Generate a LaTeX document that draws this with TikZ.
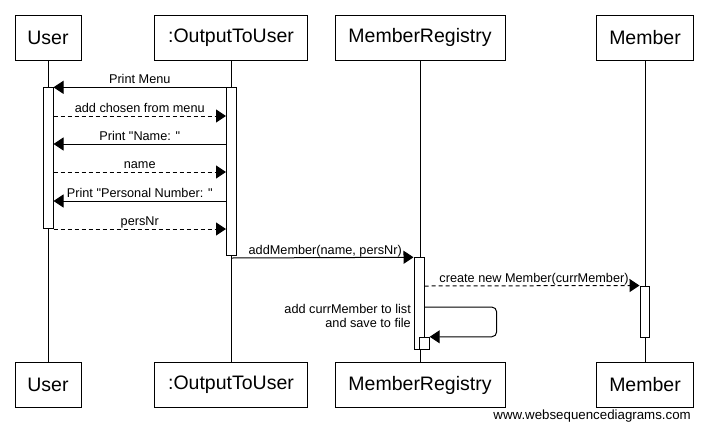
\documentclass[tikz,border=0pt]{standalone}
\usepackage{fontspec}
\setmainfont{Liberation Sans}
\usetikzlibrary{arrows.meta}
\begin{document}
\begin{tikzpicture}[x=1pt,y=-1pt,
  part/.style={draw, line width=1pt, fill=white, minimum height=45pt, inner sep=0pt, font=\fontsize{19.5}{21}\selectfont},
  act/.style={draw, line width=1pt, fill=white, minimum width=10pt, inner sep=0pt},
  msg/.style={line width=1pt, -{Triangle[length=10pt,width=13pt]}},
  ret/.style={msg, dash pattern=on 4pt off 3pt},
  lbl/.style={font=\fontsize{12.7}{14}\selectfont, inner sep=0pt, anchor=base, yshift=3.5pt},
  life/.style={line width=1pt}]
\fill[white] (0,0) rectangle (708,432);
\useasboundingbox (0,0) rectangle (708,432);
% participants
\node[part, minimum width=66pt]  (ut) at (48,37.5) {User};
\node[part, minimum width=153pt] (ot) at (231,37.5) {:OutputToUser};
\node[part, minimum width=170pt] (mt) at (420,37.5) {MemberRegistry};
\node[part, minimum width=97pt]  (et) at (645,37.5) {Member};
\node[part, minimum width=66pt]  (ub) at (48,385) {User};
\node[part, minimum width=153pt] (ob) at (231,385) {:OutputToUser};
\node[part, minimum width=170pt] (mb) at (420,385) {MemberRegistry};
\node[part, minimum width=97pt]  (eb) at (645,385) {Member};
% lifelines
\draw[life] (ut.south) -- (ub.north);
\draw[life] (ot.south) -- (ob.north);
\draw[life] (mt.south) -- (mb.north);
\draw[life] (et.south) -- (eb.north);
% activations
\node[act, minimum height=141.5pt] (ua) at (48,158.2) {};
\node[act, minimum height=168.5pt] (oa) at (231.5,171.7) {};
\node[act, minimum height=91.5pt]  (ma) at (419,303.5) {};
\node[act, minimum height=12pt]    (mn) at (424.2,343.3) {};
\node[act, minimum height=51pt, minimum width=9pt] (ea) at (644.5,311.5) {};
% messages
\draw[msg] (oa.west |- 0,87.3) -- node[lbl] {Print Menu} (ua.east |- 0,87.3);
\draw[ret] (ua.east |- 0,116) -- node[lbl] {add chosen from menu} (oa.west |- 0,116);
\draw[msg] (oa.west |- 0,144) -- node[lbl] {Print \textquotedbl Name: \textquotedbl} (ua.east |- 0,144);
\draw[ret] (ua.east |- 0,172) -- node[lbl] {name} (oa.west |- 0,172);
\draw[msg] (oa.west |- 0,201) -- node[lbl] {Print \textquotedbl Personal Number: \textquotedbl} (ua.east |- 0,201);
\draw[ret] (ua.east |- 0,229) -- node[lbl] {persNr} (oa.west |- 0,229);
\draw[msg] (ot.south |- 0,258) -- node[lbl, xshift=3pt] {addMember(name, persNr)} (ma.north west);
\draw[ret] (ma.east |- 0,286) -- node[lbl, xshift=2pt] {create new Member(currMember)} (ea.north west);
\coordinate (sl) at (496.7,307);
\draw[msg, rounded corners=5pt] (ma.east |- 0,307) -- (sl) -- (sl |- mn.north) -- (mn.north east);
\node[font=\fontsize{12.7}{14}\selectfont, align=right, anchor=east, inner sep=0pt] (sll) at (411,315.5) {add currMember to list\\and save to file};
% watermark
\node[font=\fontsize{13.3}{15}\selectfont, anchor=east, inner sep=0pt] (wm) at (691,416) {www.websequencediagrams.com};
\end{tikzpicture}
\end{document}
